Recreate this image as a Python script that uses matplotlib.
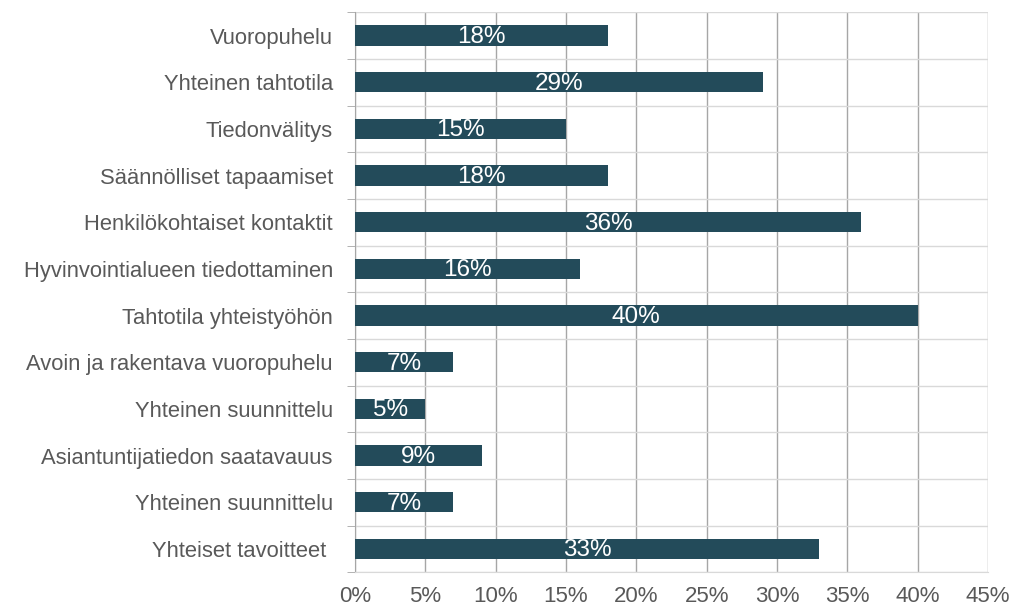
import matplotlib.pyplot as plt
import numpy as np

plt.rcParams['font.family'] = ['Liberation Sans', 'DejaVu Sans']

categories = ['Vuoropuhelu', 'Yhteinen tahtotila', 'Tiedonvälitys',
              'Säännölliset tapaamiset', 'Henkilökohtaiset kontaktit',
              'Hyvinvointialueen tiedottaminen', 'Tahtotila yhteistyöhön',
              'Avoin ja rakentava vuoropuhelu', 'Yhteinen suunnittelu',
              'Asiantuntijatiedon saatavauus', 'Yhteinen suunnittelu',
              'Yhteiset tavoitteet ']
values = [18, 29, 15, 18, 36, 16, 40, 7, 5, 9, 7, 33]
xticks = [0, 5, 10, 15, 20, 25, 30, 35, 40, 45]

fig = plt.figure(figsize=(10.35, 6.1), dpi=100)
ax = fig.add_axes([0.343, 0.062, 0.6116, 0.918])

y = np.arange(len(categories))
ax.barh(y, values, height=0.43, color='#234B5A', zorder=3)
for yi, v in zip(y, values):
    ax.text(v / 2, yi + 0.03, f'{v}%', ha='center', va='center', color='white',
            fontsize=17.5, zorder=4)

ax.set_xlim(0, 45)
ax.set_ylim(len(categories) - 0.5, -0.5)
ax.set_xticks(xticks)
ax.set_xticklabels([f'{t}%' for t in xticks])
ax.set_yticks(y)
ax.set_yticklabels(categories)
ax.set_yticks(np.arange(len(categories) + 1) - 0.5, minor=True)

ax.tick_params(axis='y', which='major', length=0, pad=16, labelsize=15.8, labelcolor='#595959')
ax.tick_params(axis='y', which='minor', length=6, color='#A6A6A6', direction='out')
ax.tick_params(axis='x', length=0, pad=10, labelsize=16, labelcolor='#595959')

ax.grid(axis='x', which='major', color='#A6A6A6', linewidth=1, zorder=0)
ax.grid(axis='y', which='minor', color='#D9D9D9', linewidth=1, zorder=0)

for s in ['top', 'right']:
    ax.spines[s].set_visible(False)
ax.spines['left'].set_color('#A6A6A6')
ax.spines['bottom'].set_color('#D9D9D9')

fig.savefig('out.png', dpi=100)
